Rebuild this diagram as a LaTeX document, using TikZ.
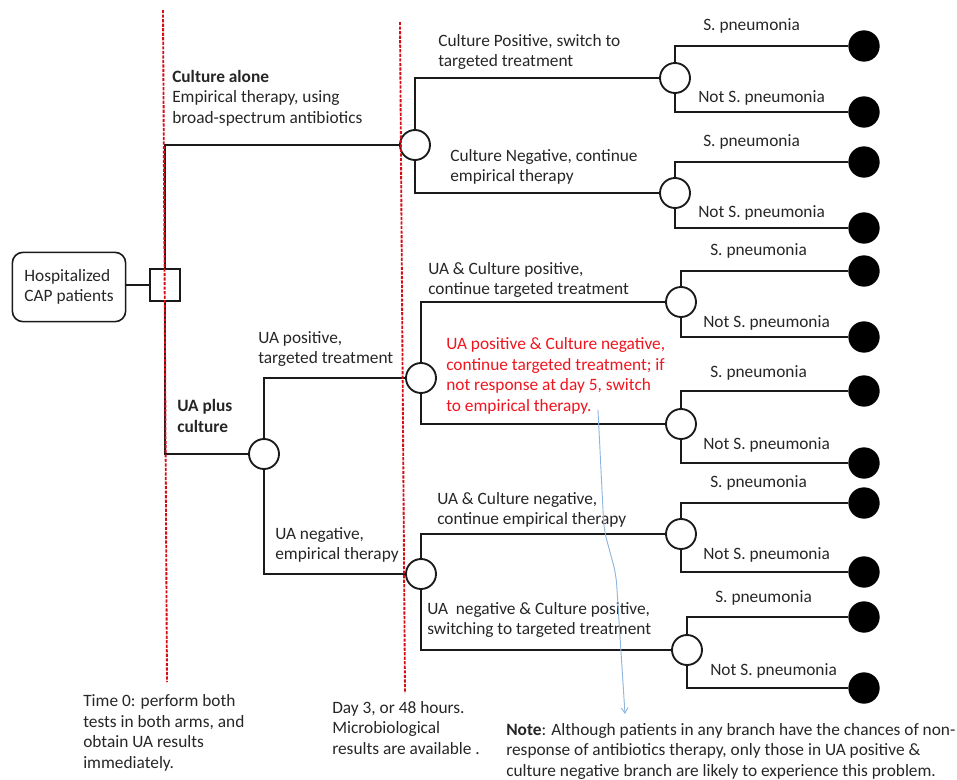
\documentclass[tikz,border=0pt]{standalone}
\usepackage{fontspec}
\setmainfont{Carlito}
\usepackage{tikz}
\usetikzlibrary{arrows.meta,positioning}
\definecolor{dtInk}{HTML}{262626}
\definecolor{dtEdge}{HTML}{1A1A1A}
\definecolor{dtWarn}{HTML}{F0141E}
\definecolor{dtCut}{HTML}{D80C16}
\definecolor{dtPen}{HTML}{8FB4DE}
\tikzset{
  dt diagram/.style={font=\fontsize{13}{15.4}\selectfont, text=dtInk,
    line join=miter},
  dt line/.style={draw=dtEdge, line width=1.4pt},
  dt chance/.style={circle, draw=dtEdge, fill=white, line width=1.4pt,
    minimum size=22.5pt, inner sep=0pt},
  dt leaf/.style={circle, fill=black, minimum size=23.5pt, inner sep=0pt},
  dt decision/.style={rectangle, draw=dtEdge, fill=white, line width=1.2pt,
    minimum width=22.5pt, minimum height=24pt, inner sep=0pt},
  dt start/.style={rectangle, rounded corners=8pt, draw=dtEdge,
    line width=1.2pt, minimum width=85pt, minimum height=52pt,
    align=left, inner sep=0pt},
  dt text/.style={anchor=west, align=left, inner sep=0pt},
  dt warn/.style={dt text, text=dtWarn},
  dt timeline/.style={draw=dtCut, line width=1.4pt,
    dash pattern=on 2.4pt off 1pt},
  dt note arrow/.style={-{Straight Barb[length=4pt,width=5pt]}, draw=dtPen,
    line width=0.7pt, rounded corners=8pt}
}
\begin{document}
\begin{tikzpicture}[dt diagram, x=0.75pt, y=-0.75pt]
\useasboundingbox (0,0) rectangle (957,779);
% start and decision
\node[dt start] (pat) at (69,287) {Hospitalized\\CAP patients};
\node[dt decision] (dec) at (165,285) {};
% chance nodes
\node[dt chance] (cult) at (415,145) {};
\node[dt chance] (ua) at (264,454) {};
\node[dt chance] (uapos) at (421,378) {};
\node[dt chance] (uaneg) at (421,574) {};
\node[dt chance] (cpos) at (675,78) {};
\node[dt chance] (cneg) at (675,193) {};
\node[dt chance] (pp) at (681,302) {};
\node[dt chance] (pn) at (681,424) {};
\node[dt chance] (nn) at (681,534) {};
\node[dt chance] (np) at (687,650) {};
% branches
\draw[dt line] (pat.east |- dec) -- (dec);
\draw[dt line] (dec.north) |- (cult);
\draw[dt line] (dec.south) |- (ua);
\draw[dt line] (cult.north) |- (cpos);
\draw[dt line] (cult.south) |- (cneg);
\draw[dt line] (ua.north) |- (uapos);
\draw[dt line] (ua.south) |- (uaneg);
\draw[dt line] (uapos.north) |- (pp);
\draw[dt line] (uapos.south) |- (pn);
\draw[dt line] (uaneg.north) |- (nn);
\draw[dt line] (uaneg.south) |- (np);
% terminal nodes
\foreach \c/\ya/\yb/\xa/\la/\xb/\lb in {cpos/46/112/703/26/698/98,
    cneg/162/228/703/142/698/213, pp/271/337/710/251/703/323,
    pn/391/463/710/373/703/445, nn/503/572/710/483/703/555,
    np/617/688/715/598/710/671}{
  \node[dt leaf] (\c-sp) at (864,\ya) {};
  \node[dt leaf] (\c-ns) at (864,\yb) {};
  \draw[dt line] (\c.north) |- (\c-sp);
  \draw[dt line] (\c.south) |- (\c-ns);
  \node[dt text] (\c-spl) at (\xa,\la) {S. pneumonia};
  \node[dt text] (\c-nsl) at (\xb,\lb) {Not S. pneumonia};
}
% time points
\coordinate (t0top) at (163,10);
\coordinate (t0bot) at (167,682);
\coordinate (t3top) at (400,22);
\coordinate (t3bot) at (405,693);
\draw[dt timeline] (t0top) -- (t0bot);
\draw[dt timeline] (t3top) -- (t3bot);
% labels
\node[dt text] (armcult) at (172,98) {\textbf{Culture alone}\\Empirical therapy, using\\broad-spectrum antibiotics};
\node[dt text] (armua) at (177,416) {\textbf{UA plus}\\\textbf{culture}};
\node[dt text] (lcpos) at (438,52) {Culture Positive, switch to\\targeted treatment};
\node[dt text] (lcneg) at (450,167) {Culture Negative, continue\\empirical therapy};
\node[dt text] (luapos) at (258,349) {UA positive,\\targeted treatment};
\node[dt text] (luaneg) at (275,545) {UA negative,\\empirical therapy};
\node[dt text] (lpp) at (428,280) {UA \& Culture positive,\\continue targeted treatment};
\node[dt warn] (lpn) at (446,376) {UA positive \& Culture negative,\\continue targeted treatment; if\\not response at day 5, switch\\to empirical therapy.};
\node[dt text] (lnn) at (437,510) {UA \& Culture negative,\\continue empirical therapy};
\node[dt text] (lnp) at (427,620) {UA\ \ negative \& Culture positive,\\switching to targeted treatment};
\node[dt text] (time0) at (83,733) {Time 0: perform both\\tests in both arms, and\\obtain UA results\\immediately.};
\node[dt text] (day3) at (332,728) {Day 3, or 48 hours.\\Microbiological\\results are available .};
\node[dt text] (note) at (506,751) {\textbf{Note}: Although patients in any branch have the chances of non-\\response of antibiotics therapy, only those in UA positive \&\\culture negative branch are likely to experience this problem.};
% pointer to the note
\coordinate (warnfoot) at (598,410);
\coordinate (notetip) at (625,714);
\draw[dt note arrow] (warnfoot) -- (604,530) -- (616,574) -- (notetip);
\end{tikzpicture}
\end{document}
